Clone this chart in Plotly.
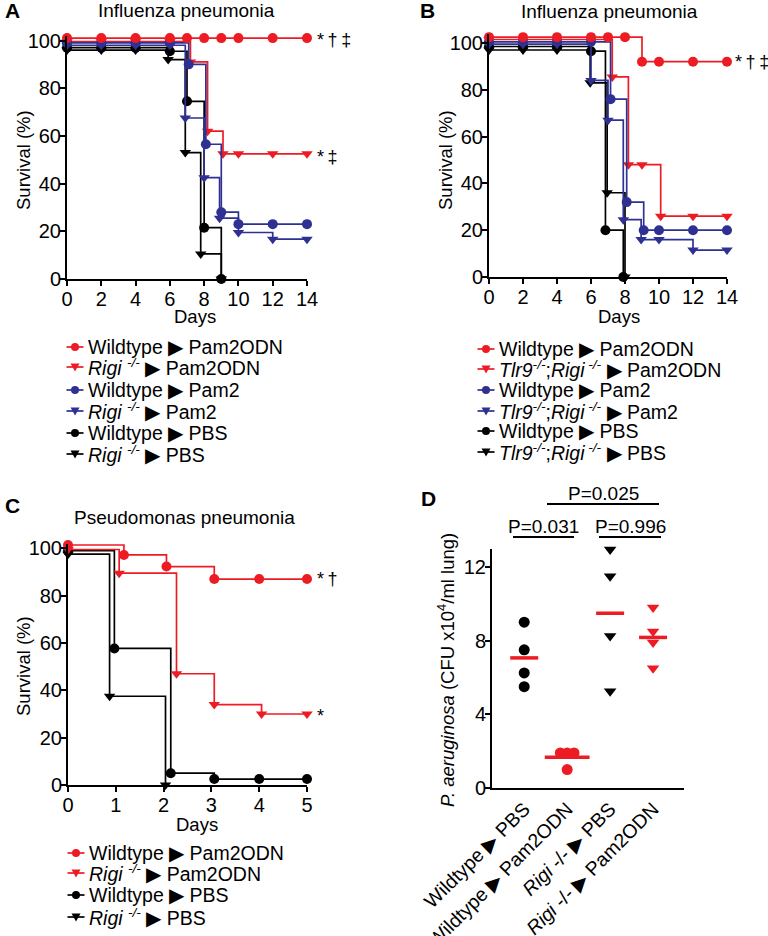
import plotly.graph_objects as go
import numpy as np

W, H = 768, 936
def px(x): return x / W
def py(y): return 1 - y / H

RED = "#ED1C24"
BLUE = "#2E3192"
BLACK = "#000000"
FONT = "Liberation Sans, Arial, sans-serif"

# ---------------- Panel A : Influenza pneumonia ----------------
a_wt_p2o_days = [0, 2, 4, 6, 7, 8, 9, 10, 12, 14]
a_wt_p2o_surv = [101, 101, 101, 101, 101, 101, 101, 101, 101, 101]
a_ko_p2o_days = [0, 2, 4, 6, 7.2, 8.2, 9.1, 10, 12, 14]
a_ko_p2o_surv = [99.5, 99.5, 99.5, 99.5, 91, 62, 52.5, 52.5, 52.5, 52.5]
a_wt_p2_days = [0, 2, 4, 6, 7.1, 8.1, 9, 10, 12, 14]
a_wt_p2_surv = [99, 99, 99, 99, 90, 56.5, 28, 23, 23, 23]
a_ko_p2_days = [0, 2, 4, 6, 6.9, 8, 8.9, 10, 12, 14]
a_ko_p2_surv = [98, 98, 98, 98, 67.5, 42.5, 25.5, 19.5, 16.7, 16.7]
a_wt_pbs_days = [0, 2, 4, 6, 7, 8, 9]
a_wt_pbs_surv = [97, 97, 97, 95.5, 74.5, 21.5, 0]
a_ko_pbs_days = [0, 2, 4, 5.9, 6.9, 7.8, 9]
a_ko_pbs_surv = [96, 96, 96, 92, 53, 10.5, 0]

# ---------------- Panel B : Influenza pneumonia ----------------
b_wt_p2o_days = [0, 2, 4, 6, 7, 8, 9, 10, 12, 14]
b_wt_p2o_surv = [102.5, 102.5, 102.5, 102.5, 102.5, 102.5, 92, 92, 92, 92]
b_ko_p2o_days = [0, 2, 4, 6, 7.25, 8.2, 9, 10.1, 12, 14]
b_ko_p2o_surv = [101.5, 101.5, 101.5, 101.5, 85.5, 48, 48, 26, 26, 26]
b_wt_p2_days = [0, 2, 4, 6, 7.15, 8.1, 9.1, 10, 12, 14]
b_wt_p2_surv = [100.5, 100.5, 100.5, 100.5, 76, 32, 20, 20, 20, 20]
b_ko_p2_days = [0, 2, 4, 6, 7, 7.9, 8.95, 10, 12, 14]
b_ko_p2_surv = [99.5, 99.5, 99.5, 84, 67, 24.5, 16, 16, 11.5, 11.5]
b_wt_pbs_days = [0, 2, 4, 6, 6.85, 7.9]
b_wt_pbs_surv = [98.5, 98.5, 98.5, 96.5, 20, 0]
b_ko_pbs_days = [0, 2, 4, 5.95, 6.95, 8.0]
b_ko_pbs_surv = [97, 97, 97, 83, 36, 0]

# ---------------- Panel C : Pseudomonas pneumonia ----------------
c_wt_p2o_days = [0, 1.17, 2.06, 3.06, 4, 5]
c_wt_p2o_surv = [101.4, 97.2, 92.3, 87, 87, 87]
c_ko_p2o_days = [0, 1.07, 2.27, 3.06, 4.05, 5]
c_ko_p2o_surv = [99.5, 89.5, 47, 34, 30, 30]
c_wt_pbs_days = [0, 0.97, 2.15, 3.06, 4, 5]
c_wt_pbs_surv = [99, 57.7, 5, 2.5, 2.5, 2.5]
c_ko_pbs_days = [0, 0.87, 2.04]
c_ko_pbs_surv = [97.5, 37.5, 0]

# ---------------- Panel D : bacterial burden ----------------
d_groups = ["Wildtype ▶ PBS", "Wildtype ▶ Pam2ODN",
            "<i>Rigi</i> -/- ▶ PBS", "<i>Rigi</i> -/- ▶ Pam2ODN"]
d_wt_pbs = [9.0, 7.5, 6.25, 5.5]
d_wt_p2o = [1.9, 1.9, 1.9, 1.0]
d_ko_pbs = [12.95, 11.5, 8.25, 5.25]
d_ko_p2o = [9.8, 8.5, 7.9, 6.5]
d_pvals = ["P=0.031", "P=0.996", "P=0.025"]

fig = go.Figure()

def km(x, y, color, symbol, xa, ya):
    fig.add_trace(go.Scatter(
        x=x, y=y, mode="lines+markers",
        line=dict(shape="hv", color=color, width=1.7),
        marker=dict(symbol=symbol, size=10, color=color),
        cliponaxis=False, xaxis=xa, yaxis=ya,
        showlegend=False, hoverinfo="skip"))

# A
km(a_ko_pbs_days, a_ko_pbs_surv, BLACK, "triangle-down", "x", "y")
km(a_wt_pbs_days, a_wt_pbs_surv, BLACK, "circle", "x", "y")
km(a_ko_p2o_days, a_ko_p2o_surv, RED, "triangle-down", "x", "y")
km(a_ko_p2_days, a_ko_p2_surv, BLUE, "triangle-down", "x", "y")
km(a_wt_p2_days, a_wt_p2_surv, BLUE, "circle", "x", "y")
km(a_wt_p2o_days, a_wt_p2o_surv, RED, "circle", "x", "y")
# B
km(b_ko_pbs_days, b_ko_pbs_surv, BLACK, "triangle-down", "x2", "y2")
km(b_wt_pbs_days, b_wt_pbs_surv, BLACK, "circle", "x2", "y2")
km(b_ko_p2o_days, b_ko_p2o_surv, RED, "triangle-down", "x2", "y2")
km(b_ko_p2_days, b_ko_p2_surv, BLUE, "triangle-down", "x2", "y2")
km(b_wt_p2_days, b_wt_p2_surv, BLUE, "circle", "x2", "y2")
km(b_wt_p2o_days, b_wt_p2o_surv, RED, "circle", "x2", "y2")
# C
km(c_ko_pbs_days, c_ko_pbs_surv, BLACK, "triangle-down", "x3", "y3")
km(c_wt_pbs_days, c_wt_pbs_surv, BLACK, "circle", "x3", "y3")
km(c_ko_p2o_days, c_ko_p2o_surv, RED, "triangle-down", "x3", "y3")
km(c_wt_p2o_days, c_wt_p2o_surv, RED, "circle", "x3", "y3")

# D scatter
d_sets = [(d_wt_pbs, BLACK, "circle", [0, 0, 0, 0]),
          (d_wt_p2o, RED, "circle", [-0.16, 0, 0.16, 0]),
          (d_ko_pbs, BLACK, "triangle-down", [0, 0, 0, 0]),
          (d_ko_p2o, RED, "triangle-down", [0, 0, 0, 0])]
for gi, (vals, col, sym, jit) in enumerate(d_sets):
    fig.add_trace(go.Scatter(
        x=[gi + j for j in jit], y=vals, mode="markers",
        marker=dict(symbol=sym, size=11, color=col),
        cliponaxis=False, xaxis="x4", yaxis="y4",
        showlegend=False, hoverinfo="skip"))
d_means = [float(np.mean(v[0])) for v in d_sets]
fig.add_trace(go.Scatter(
    x=list(range(4)), y=d_means, mode="markers",
    marker=dict(symbol="line-ew", size=[20, 32, 20, 20], color=RED, opacity=1,
                line=dict(color=RED, width=3.5)),
    cliponaxis=False, xaxis="x4", yaxis="y4",
    showlegend=False, hoverinfo="skip"))

axis_common = dict(showline=True, linecolor="black", linewidth=2,
                   ticks="outside", ticklen=5, tickwidth=2, tickcolor="black",
                   showgrid=False, zeroline=False, automargin=False,
                   tickfont=dict(family=FONT, size=20, color="black"))
yextra = dict(ticklabelstandoff=-5)
xextra = dict(ticklabelstandoff=-4)

fig.update_layout(
    width=W, height=H, margin=dict(l=0, r=0, t=0, b=0),
    paper_bgcolor="white", plot_bgcolor="white",
    font=dict(family=FONT, size=18, color="black"),
    xaxis=dict(axis_common, **xextra, domain=[px(67), px(307)], range=[0, 14],
               tickvals=[0, 2, 4, 6, 8, 10, 12, 14], anchor="y"),
    yaxis=dict(axis_common, **yextra, domain=[py(279), py(279 - 102 * 2.385)], range=[0, 102],
               tickvals=[0, 20, 40, 60, 80, 100], anchor="x"),
    xaxis2=dict(axis_common, **xextra, domain=[px(489), px(727)], range=[0, 14],
                tickvals=[0, 2, 4, 6, 8, 10, 12, 14], anchor="y2"),
    yaxis2=dict(axis_common, **yextra, domain=[py(277), py(277 - 104 * 2.34)], range=[0, 104],
                tickvals=[0, 20, 40, 60, 80, 100], anchor="x2"),
    xaxis3=dict(axis_common, **xextra, domain=[px(68), px(307)], range=[0, 5],
                tickvals=[0, 1, 2, 3, 4, 5], anchor="y3"),
    yaxis3=dict(axis_common, **yextra, domain=[py(785), py(785 - 102 * 2.367)], range=[0, 102],
                tickvals=[0, 20, 40, 60, 80, 100], anchor="x3"),
    xaxis4=dict(axis_common, domain=[px(492), px(684)], range=[-0.75, 3.72],
                tickvals=[0, 1, 2, 3], ticktext=d_groups, tickangle=-45, ticks="",
                anchor="y4"),
    yaxis4=dict(axis_common, **yextra, domain=[py(788), py(788 - 13 * 18.42)], range=[0, 13],
                tickvals=[0, 4, 8, 12], anchor="x4"),
)
fig.layout.xaxis4.tickfont.size = 19.5

annotations = []
shapes = []

def text(x, y, t, size=18, xanchor="center", yanchor="middle", angle=0, bold=False):
    annotations.append(dict(
        x=px(x), y=py(y), xref="paper", yref="paper", text=(f"<b>{t}</b>" if bold else t),
        showarrow=False, xanchor=xanchor, yanchor=yanchor, textangle=angle,
        font=dict(family=FONT, size=size, color="black")))

# Panel letters & titles
text(12, 11, "A", size=21, bold=True)
text(427, 11, "B", size=21, bold=True)
text(12, 505, "C", size=21, bold=True)
text(428, 498, "D", size=21, bold=True)
text(186, 11, "Influenza pneumonia", size=19)
text(609, 12, "Influenza pneumonia", size=19)
text(184, 517, "Pseudomonas pneumonia", size=19)

# Axis titles
text(23, 160, "Survival (%)", size=18.5, angle=-90)
text(445, 160, "Survival (%)", size=18.5, angle=-90)
text(23, 666, "Survival (%)", size=18.5, angle=-90)
text(195, 316, "Days", size=18.5)
text(619, 316, "Days", size=18.5)
text(197, 824, "Days", size=18.5)
text(446, 670, "<i>P. aeruginosa</i> (CFU x10<sup>4</sup>/ml lung)", size=18.5, angle=-90)

# Significance marks
ts = "\u2009"
text(315, 40, f"*{ts}†{ts}‡", xanchor="left")
text(315, 157, f"*{ts}‡", xanchor="left")
text(733, 62, f"*{ts}†{ts}‡", xanchor="left")
text(315, 579, f"*{ts}†", xanchor="left")
text(315, 716, "*", xanchor="left")

# D p-value brackets
def bracket(x0, x1, y, label):
    shapes.append(dict(type="line", xref="paper", yref="paper",
                       x0=px(x0), x1=px(x1), y0=py(y), y1=py(y),
                       line=dict(color="black", width=2)))
    text((x0 + x1) / 2, y - 11, label, size=19)
bracket(513, 574, 537, d_pvals[0])
bracket(599, 661, 537, d_pvals[1])
bracket(547, 659, 504, d_pvals[2])

# Manual legends
def legend_entry(xc, yc, color, symbol, label, tx):
    shapes.append(dict(type="line", xref="paper", yref="paper",
                       x0=px(xc - 8.5), x1=px(xc + 8.5), y0=py(yc), y1=py(yc),
                       line=dict(color=color, width=1.7)))
    if symbol == "circle":
        r = 4
        shapes.append(dict(type="circle", xref="paper", yref="paper",
                           x0=px(xc - r), x1=px(xc + r), y0=py(yc + r), y1=py(yc - r),
                           fillcolor=color, line=dict(color=color, width=0)))
    else:
        p = (f"M {px(xc - 4.5)},{py(yc - 3.5)} L {px(xc + 4.5)},{py(yc - 3.5)} "
             f"L {px(xc)},{py(yc + 4.5)} Z")
        shapes.append(dict(type="path", xref="paper", yref="paper", path=p,
                           fillcolor=color, line=dict(color=color, width=0)))
    text(tx, yc, label, size=19.5, xanchor="left")

rigi = "<i>Rigi</i> <sup><i>-/-</i></sup>"
tlr = "<i>Tlr9</i><sup><i>-/-</i></sup>;<i>Rigi</i><sup><i> -/-</i></sup>"
leg_a = [(RED, "circle", "Wildtype ▶ Pam2ODN"),
         (RED, "tri", rigi + " ▶ Pam2ODN"),
         (BLUE, "circle", "Wildtype ▶ Pam2"),
         (BLUE, "tri", rigi + " ▶ Pam2"),
         (BLACK, "circle", "Wildtype ▶ PBS"),
         (BLACK, "tri", rigi + " ▶ PBS")]
leg_b = [(RED, "circle", "Wildtype ▶ Pam2ODN"),
         (RED, "tri", tlr + " ▶ Pam2ODN"),
         (BLUE, "circle", "Wildtype ▶ Pam2"),
         (BLUE, "tri", tlr + " ▶ Pam2"),
         (BLACK, "circle", "Wildtype ▶ PBS"),
         (BLACK, "tri", tlr + " ▶ PBS")]
leg_c = [(RED, "circle", "Wildtype ▶ Pam2ODN"),
         (RED, "tri", rigi + " ▶ Pam2ODN"),
         (BLACK, "circle", "Wildtype ▶ PBS"),
         (BLACK, "tri", rigi + " ▶ PBS")]
for (c, s, l), yy in zip(leg_a, [347, 367, 390, 411, 433, 454]):
    legend_entry(75, yy, c, s, l, 86)
for (c, s, l), yy in zip(leg_b, [349, 369, 390, 411, 431, 452]):
    legend_entry(486, yy, c, s, l, 497)
for (c, s, l), yy in zip(leg_c, [853, 873, 895, 917]):
    legend_entry(76, yy, c, s, l, 87)

fig.update_layout(annotations=annotations, shapes=shapes)
fig.write_html("out.html", config={"displayModeBar": False},
               post_script="document.body.style.margin='0';document.body.style.padding='0';")
